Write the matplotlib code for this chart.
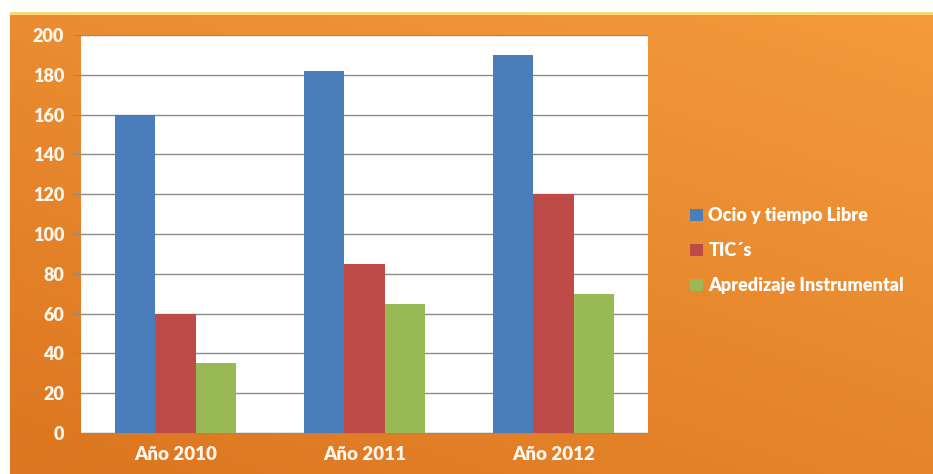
import numpy as np
import matplotlib.pyplot as plt
from matplotlib.patches import Rectangle

categories = ['Año 2010', 'Año 2011', 'Año 2012']
ocio = [160, 182, 190]
tics = [60, 85, 120]
aprendizaje = [35, 65, 70]
series_names = ['Ocio y tiempo Libre', 'TIC\u00b4s', 'Apredizaje Instrumental']
colors = ['#4A7EBB', '#BE4B48', '#98B954']

plt.rcParams['font.family'] = ['Lato', 'DejaVu Sans']
fig = plt.figure(figsize=(9.33, 4.74), dpi=100)
fig.patch.set_facecolor('white')

# orange gradient background
bg = fig.add_axes([10/933, 0, 923/933, 1 - 12/474])
bg.set_axis_off()
yy, xx = np.mgrid[0:1:200j, 0:1:400j]
t = 0.6 * yy + 0.4 * xx
c0 = np.array([0xDC, 0x76, 0x20]) / 255
c1 = np.array([0xF4, 0x9B, 0x3C]) / 255
img = c0[None, None, :] * (1 - t[..., None]) + c1[None, None, :] * t[..., None]
bg.imshow(img, origin='lower', extent=[0, 1, 0, 1], aspect='auto')
bg.set_xlim(0, 1)
bg.set_ylim(0, 1)
fig.add_artist(Rectangle((10/933, 1 - 15/474), 923/933, 3/474, transform=fig.transFigure,
                         color='#F8D877', lw=0))

ax = fig.add_axes([81/933, 41/474, 567/933, 398/474])
ax.set_facecolor('white')
x = np.arange(len(categories))
w = 0.215
for i, (vals, name) in enumerate(zip([ocio, tics, aprendizaje], series_names)):
    ax.bar(x + (i - 1) * w, vals, w, color=colors[i], label=name, zorder=3)

ax.set_ylim(0, 200)
ax.set_xlim(-0.5, 2.5)
ax.set_yticks(range(0, 201, 20))
ax.yaxis.grid(True, color='#8C8C8C', lw=1, zorder=0)
ax.set_xticks(x)
ax.set_xticklabels(categories)
for s in ['top', 'right', 'left']:
    ax.spines[s].set_visible(False)
ax.spines['bottom'].set_color('#8C8C8C')
ax.tick_params(axis='y', length=6, color='#8C8C8C', colors='white', labelsize=13, pad=6)
ax.tick_params(axis='x', length=0, colors='white', labelsize=13.5, pad=9)
for lab in ax.get_xticklabels() + ax.get_yticklabels():
    lab.set_fontweight('heavy')
    lab.set_color('#FFF6EC')

leg = fig.legend(loc='upper left', bbox_to_anchor=(674/933, 1 - 191/474), frameon=False,
                 handlelength=0.7, handleheight=0.7, handletextpad=0.3, labelspacing=1.0,
                 prop={'weight': 'heavy', 'size': 13})
for txt in leg.get_texts():
    txt.set_color('white')

fig.savefig('out.png', dpi=100, facecolor=fig.get_facecolor())
